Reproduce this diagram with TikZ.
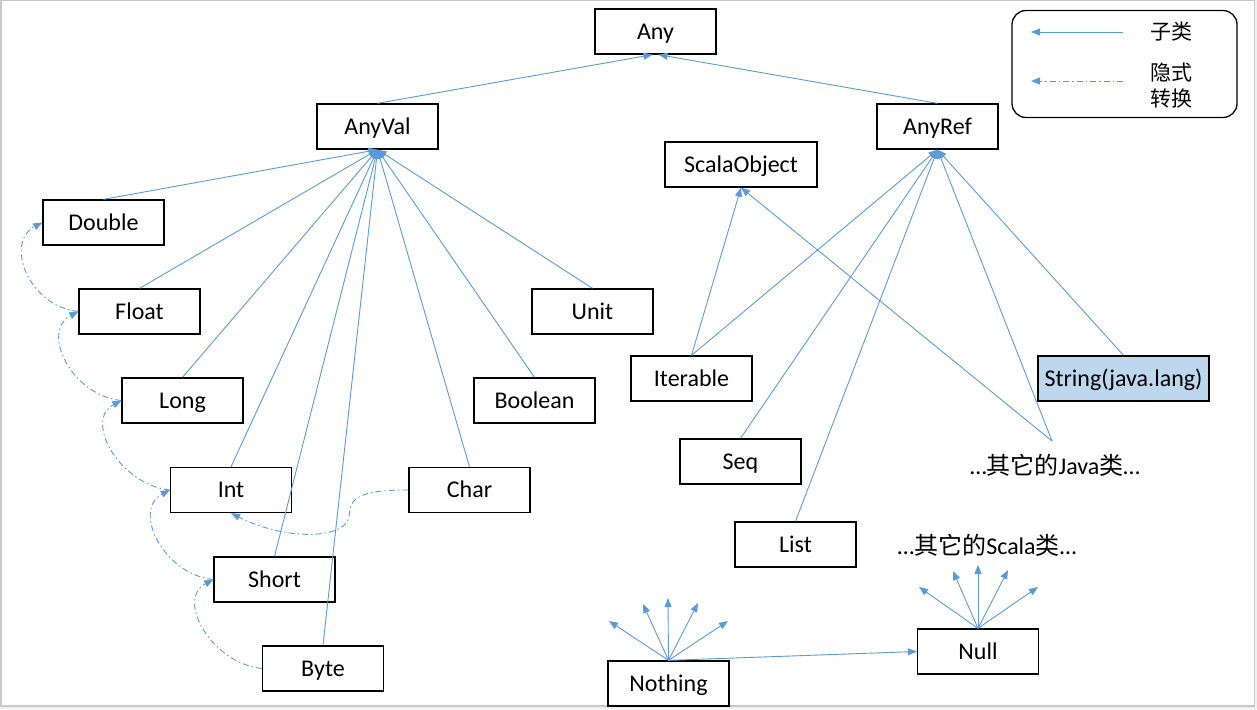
\documentclass[tikz,border=0pt]{standalone}
\usepackage{fontspec}
\setmainfont{Carlito}
\newfontfamily\cjk{Noto Sans CJK SC}
\usetikzlibrary{arrows.meta}
\definecolor{lineblue}{RGB}{91,155,213}
\definecolor{strfill}{RGB}{189,215,238}
\definecolor{framegray}{RGB}{200,200,200}
\definecolor{outgray}{RGB}{240,240,240}
\begin{document}
\begin{tikzpicture}[x=1pt,y=-1pt,
  cls/.style={draw=black, line width=1.3pt, minimum width=121pt, minimum height=45pt, inner sep=0pt, text height=15.5pt, text depth=0pt, font=\fontsize{24}{28}\selectfont, fill=white},
  sub/.style={draw=lineblue, line width=0.9pt, -{Triangle[length=9pt,width=7pt]}},
  conv/.style={sub, dash pattern=on 6pt off 3pt on 1.5pt off 3pt},
  txt/.style={inner sep=0pt, font=\fontsize{21}{26}\selectfont},
  free/.style={inner sep=0pt, font=\fontsize{24}{28}\selectfont}]
\useasboundingbox (0,0) rectangle (1257,709);
\fill[outgray] (0,0) rectangle (1257,709);
\draw[framegray, line width=1.5pt, fill=white] (0.75,0.75) rectangle (1254.5,706);

% nodes
\node[cls] (any) at (655.5,31.5) {Any};
\node[cls] (anyval) at (377.5,126.5) {AnyVal};
\node[cls] (anyref) at (937.5,126.5) {AnyRef};
\node[cls, minimum width=152pt] (scalaobj) at (741,164.5) {ScalaObject};
\node[cls] (double) at (103.5,222.5) {Double};
\node[cls] (float) at (139.5,311.5) {Float};
\node[cls] (long) at (182.5,400.5) {Long};
\node[cls] (int) at (231,490) {Int};
\node[cls] (short) at (274.5,579.5) {Short};
\node[cls] (byte) at (323,668.5) {Byte};
\node[cls] (char) at (469.5,490) {Char};
\node[cls] (unit) at (592.5,311.5) {Unit};
\node[cls] (boolean) at (534.5,400.5) {Boolean};
\node[cls] (iterable) at (691.5,378.5) {Iterable};
\node[cls] (seq) at (740.5,461.5) {Seq};
\node[cls] (list) at (795.5,544.5) {List};
\node[cls, minimum width=171pt, fill=strfill] (string) at (1123.5,378.5) {String(java.lang)};
\node[cls] (nothing) at (668.5,683.5) {Nothing};
\node[cls] (null) at (978,651.5) {Null};
\node[free] (javatxt) at (1055,465) {…{\cjk 其它的}Java{\cjk 类}…};
\node[free] (scalatxt) at (987,545) {…{\cjk 其它的}Scala{\cjk 类}…};
\coordinate (java) at (1052,441);

% legend
\node[draw=black, line width=1.3pt, rounded corners=14pt, minimum width=225pt, minimum height=107pt] (legend) at (1124.5,64) {};
\coordinate (l1s) at (1123,32);
\coordinate (l1e) at (1031,32);
\coordinate (l2s) at (1123,81);
\coordinate (l2e) at (1031,81);
\draw[sub] (l1s) -- (l1e);
\draw[conv] (l2s) -- (l2e);
\node[txt] (lsub) at (1171,32) {\cjk 子类};
\node[txt, align=left] (lconv) at (1171,86) {\cjk 隐式\\\cjk 转换};

% subclass arrows
\draw[sub] (anyval.north) -- ([xshift=-3pt]any.south);
\draw[sub] (anyref.north) -- ([xshift=3pt]any.south);
\foreach \n in {double,float,long,int,short,byte,char,boolean,unit}
  \draw[sub] (\n.north) -- (anyval.south);
\foreach \n in {iterable,seq,list,string}
  \draw[sub] (\n.north) -- (anyref.south);
\draw[sub] (java) -- (anyref.south);
\draw[sub] (iterable.north) -- (scalaobj.south);
\draw[sub] (java) -- (scalaobj.south);

% implicit conversions
\draw[conv] (float.west) .. controls +(-50,-5) and +(-38,20) .. (double.west);
\draw[conv] (long.west) .. controls +(-50,-5) and +(-38,20) .. (float.west);
\draw[conv] (int.west) .. controls +(-50,-5) and +(-38,20) .. (long.west);
\draw[conv] (short.west) .. controls +(-50,-5) and +(-38,20) .. (int.west);
\draw[conv] (byte.west) .. controls +(-50,-5) and +(-38,20) .. (short.west);
\draw[conv] (char.west) .. controls +(-38,0) and +(0,-20) .. ++(-59,24) .. controls +(0,26) and +(55,28) .. (int.south);

% Nothing and Null
\coordinate (n1) at (609,621);
\coordinate (n2) at (643,604);
\coordinate (n3) at (668,598);
\coordinate (n4) at (698,603);
\coordinate (n5) at (728,621);
\foreach \c in {n1,n2,n3,n4,n5}
  \draw[sub] (nothing.north) -- (\c);
\draw[sub] (nothing.north) -- (null.west);
\coordinate (u1) at (919,587);
\coordinate (u2) at (953,571);
\coordinate (u3) at (978,565);
\coordinate (u4) at (1008,570);
\coordinate (u5) at (1038,587);
\foreach \c in {u1,u2,u3,u4,u5}
  \draw[sub] (null.north) -- (\c);
\end{tikzpicture}
\end{document}
